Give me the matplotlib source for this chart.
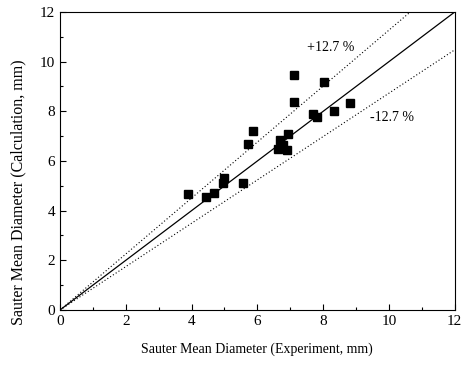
import numpy as np
import matplotlib.pyplot as plt
from matplotlib.ticker import MultipleLocator

plt.rcParams['font.family'] = ['Liberation Serif', 'DejaVu Serif']

# measured vs calculated Sauter mean diameter (mm)
d_exp = [3.88, 4.43, 4.67, 4.95, 4.98, 5.55, 5.70, 5.87, 6.63, 6.68, 6.78, 6.89,
         6.92, 7.12, 7.11, 7.68, 7.82, 8.03, 8.32, 8.83]
d_calc = [4.65, 4.56, 4.73, 5.12, 5.32, 5.12, 6.70, 7.20, 6.50, 6.84, 6.63, 6.46,
          7.10, 9.48, 8.39, 7.88, 7.79, 9.17, 8.03, 8.35]
band = 0.127

fig = plt.figure(figsize=(4.66, 3.69), dpi=100)
ax = fig.add_axes([0.1288, 0.160, 0.847, 0.8075])

x = np.array([0, 12])
ax.plot(x, x, color='black', lw=0.9)
ax.plot(x, (1 + band) * x, color='black', lw=0.8, ls=(0, (1, 2)))
ax.plot(x, (1 - band) * x, color='black', lw=0.8, ls=(0, (1, 2)))
ax.plot(d_exp, d_calc, 's', color='black', ms=6.2, zorder=3)

ax.text(7.5, 10.57, '+12.7 %', fontsize=10, va='center')
ax.text(9.42, 7.76, '-12.7 %', fontsize=10, va='center')

ax.set_xlim(0, 12)
ax.set_ylim(0, 12)
ax.xaxis.set_major_locator(MultipleLocator(2))
ax.yaxis.set_major_locator(MultipleLocator(2))
ax.xaxis.set_minor_locator(MultipleLocator(1))
ax.yaxis.set_minor_locator(MultipleLocator(1))
ax.tick_params(which='both', direction='in', top=False, right=False, labelsize=11)
ax.tick_params(which='major', length=4.5, width=0.8)
ax.tick_params(which='minor', length=2.5, width=0.8)

ax.set_xlabel('Sauter Mean Diameter (Experiment, mm)', fontsize=10)
ax.set_ylabel('Sauter Mean Diameter (Calculation, mm)', fontsize=11.5, va='center')
ax.xaxis.set_label_coords(0.5, -0.108)
ax.yaxis.set_label_coords(-0.105, 0.396)

fig.savefig('out.png', dpi=100)
